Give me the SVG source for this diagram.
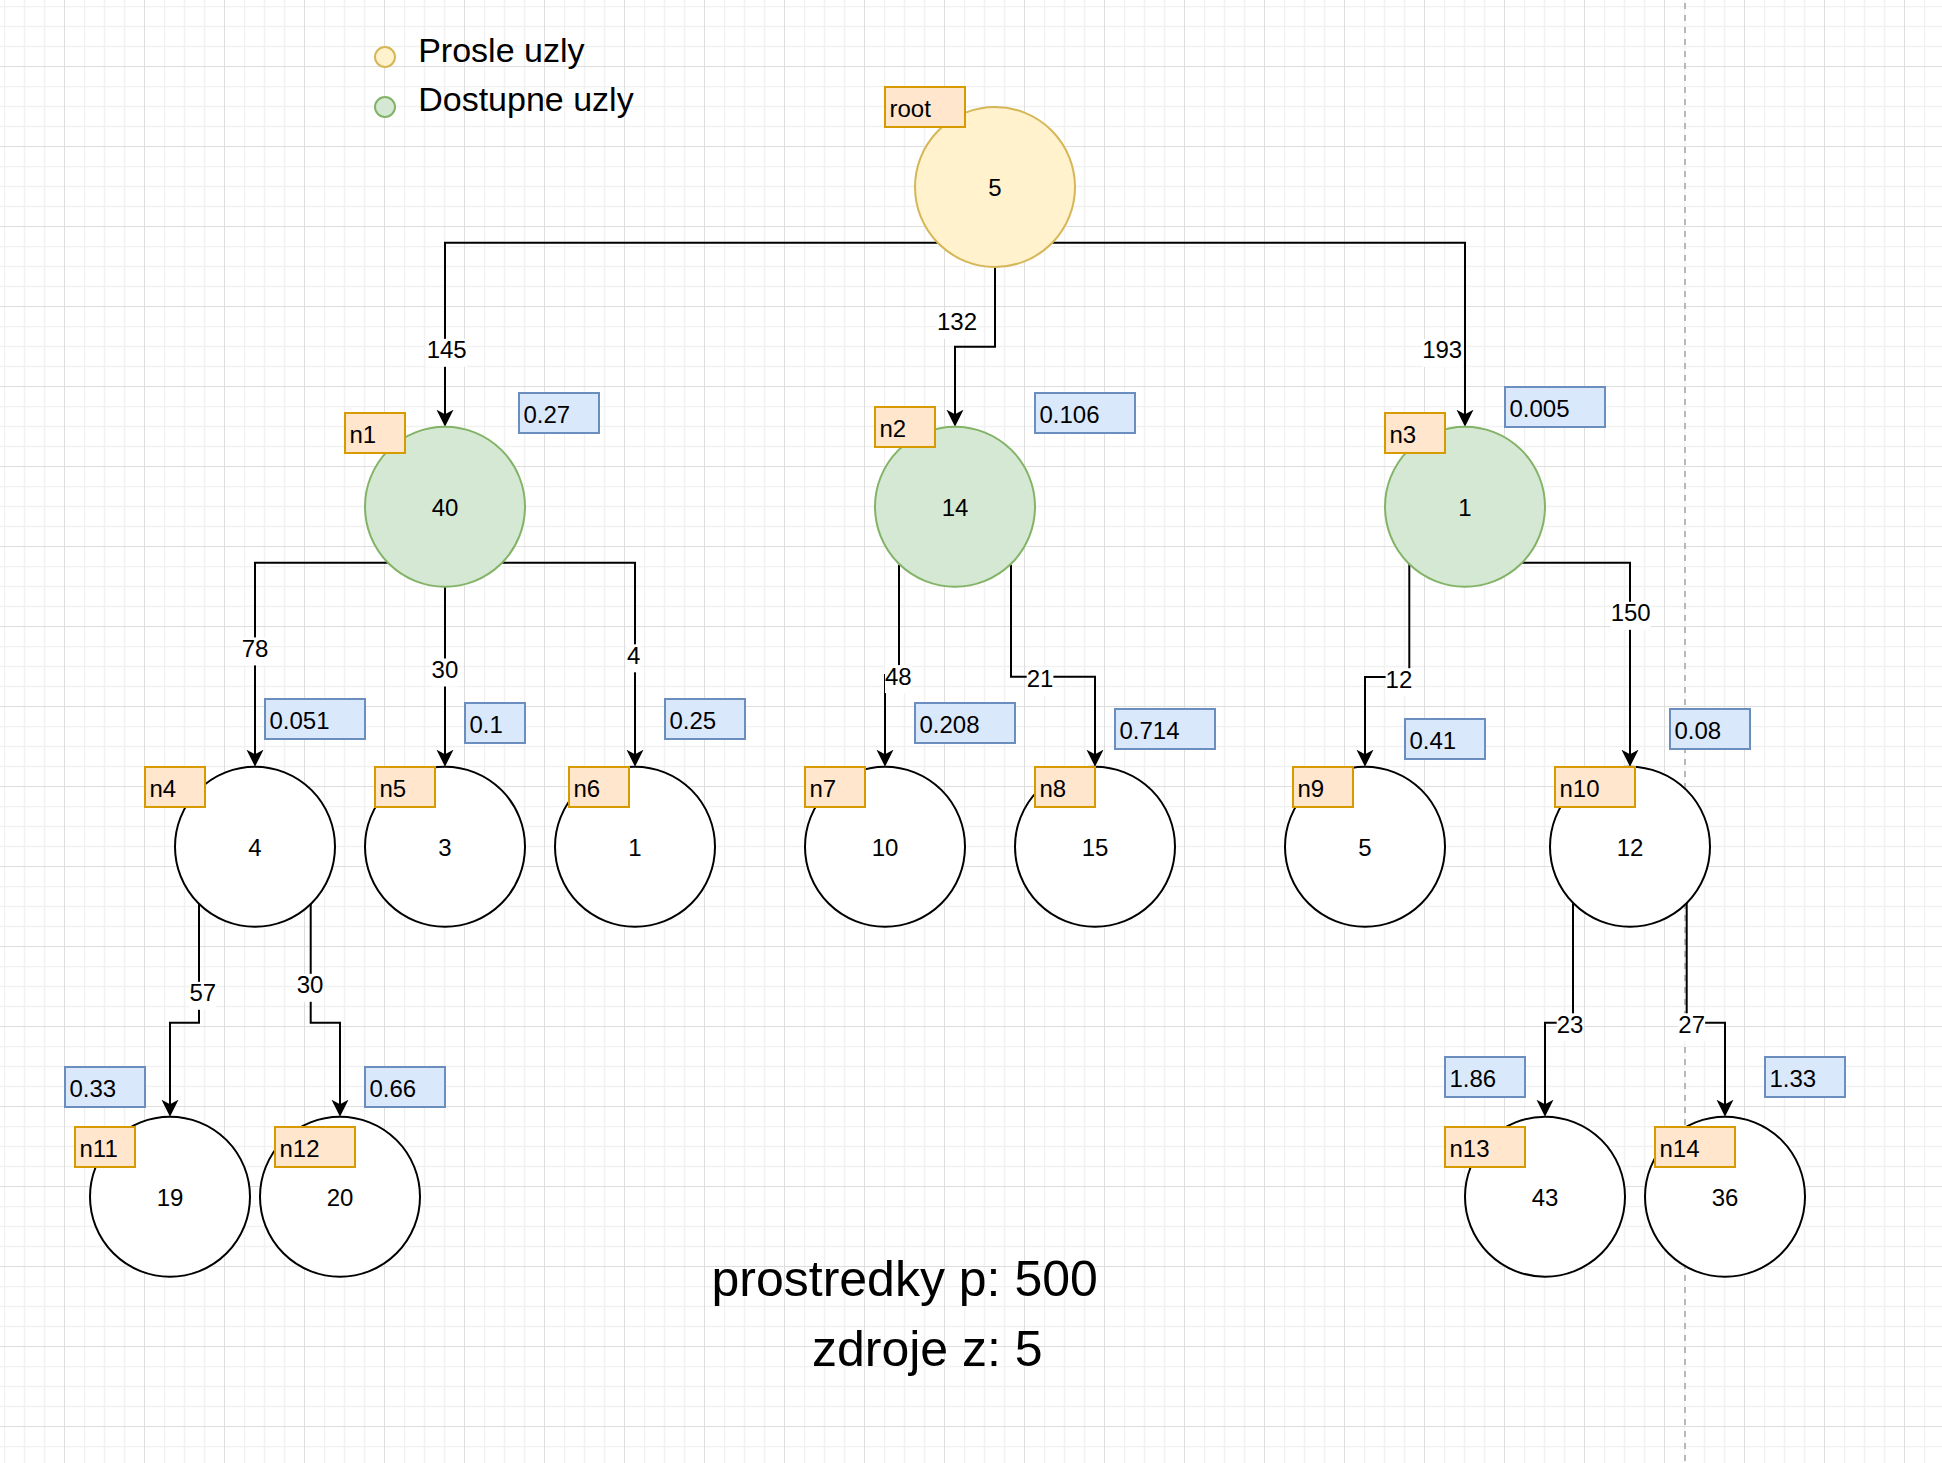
<svg xmlns="http://www.w3.org/2000/svg" width="1942" height="1463" viewBox="0 0 1942 1463">
<defs>
<pattern id="grid" x="4" y="6" width="80" height="80" patternUnits="userSpaceOnUse">
<path d="M0.5 0V80M20.5 0V80M40.5 0V80M0 0.5H80M0 20.5H80M0 40.5H80" stroke="#f1f1f1" stroke-width="1.5" fill="none"/>
<path d="M60.5 0V80M0 60.5H80" stroke="#dedede" stroke-width="1" fill="none"/>
</pattern>
<marker id="arr" markerUnits="userSpaceOnUse" markerWidth="18" markerHeight="18" refX="13" refY="8.5" orient="auto">
<path d="M0,0 L17,8.5 L0,17 L4.5,8.5 Z" fill="#000"/>
</marker>
<style>
text{font-family:"Liberation Sans",Arial,Helvetica,sans-serif;fill:#000}
.t24{font-size:24px}
.mid{text-anchor:middle}
.yel{fill:#fff2cc;stroke:#d6b656;stroke-width:2}
.grn{fill:#d5e8d4;stroke:#82b366;stroke-width:2}
.wht{fill:#fff;stroke:#000;stroke-width:2}
.lab{fill:#ffe6cc;stroke:#d79b00;stroke-width:2}
.val{fill:#dae8fc;stroke:#6c8ebf;stroke-width:2}
.edge{fill:none;stroke:#000;stroke-width:2;marker-end:url(#arr)}
.lbg{fill:#fff}
</style>
</defs>
<rect x="0" y="0" width="1942" height="1463" fill="#fff"/>
<rect x="0" y="0" width="1942" height="1463" fill="url(#grid)"/>
<line x1="1685" y1="0" x2="1685" y2="1463" stroke="#b8b8b8" stroke-width="2" stroke-dasharray="6 6" stroke-dashoffset="-3"/>

<g id="legend">
<circle cx="385" cy="57" r="10" class="yel"/>
<text x="418.2" y="62" style="font-size:34px">Prosle uzly</text>
<circle cx="385" cy="107" r="10" class="grn"/>
<text x="418.2" y="111.3" style="font-size:34px">Dostupne uzly</text>
</g>

<g id="connectors">
<path class="edge" d="M937.6,242.7 H445 V422.7"/>
<path class="edge" d="M995,267 V346.7 H955 V422.7"/>
<path class="edge" d="M1052.4,242.7 H1465 V422.7"/>
<path class="edge" d="M387.9,562.7 H255 V762.7"/>
<path class="edge" d="M445,586.7 V762.7"/>
<path class="edge" d="M502.1,562.7 H635 V762.7"/>
<path class="edge" d="M899,564.8 V675 H885 V762.7"/>
<path class="edge" d="M1011,564.8 V676.7 H1095 V762.7"/>
<path class="edge" d="M1409.3,564.1 V677 H1365 V762.7"/>
<path class="edge" d="M1522.1,562.7 H1630 V762.7"/>
<path class="edge" d="M199,903.8 V1022.7 H170 V1112.7"/>
<path class="edge" d="M310.7,904 V1022.7 H340 V1112.7"/>
<path class="edge" d="M1573,902.8 V1022.7 H1545 V1112.7"/>
<path class="edge" d="M1686.7,903 V1022.7 H1725 V1112.7"/>
<g class="t24">
<rect class="lbg" x="426.7" y="338.8" width="40" height="28"/><text class="mid" x="446.7" y="358.3">145</text>
<rect class="lbg" x="937" y="310.8" width="40" height="28"/><text class="mid" x="957" y="330.3">132</text>
<rect class="lbg" x="1422.2" y="338.8" width="40" height="28"/><text class="mid" x="1442.2" y="358.3">193</text>
<rect class="lbg" x="241.8" y="637.4" width="26.7" height="28"/><text class="mid" x="255.1" y="656.9">78</text>
<rect class="lbg" x="431.6" y="658.5" width="26.7" height="28"/><text class="mid" x="444.9" y="678">30</text>
<rect class="lbg" x="627" y="644.3" width="13.4" height="28"/><text class="mid" x="633.7" y="663.8">4</text>
<rect class="lbg" x="885" y="665.1" width="26.7" height="28"/><text class="mid" x="898.3" y="684.6">48</text>
<rect class="lbg" x="1026.7" y="667.5" width="26.7" height="28"/><text class="mid" x="1040" y="687">21</text>
<rect class="lbg" x="1385.6" y="668.2" width="26.7" height="28"/><text class="mid" x="1398.9" y="687.7">12</text>
<rect class="lbg" x="1610.7" y="601.8" width="40" height="28"/><text class="mid" x="1630.7" y="621.3">150</text>
<rect class="lbg" x="189.5" y="981.8" width="26.7" height="28"/><text class="mid" x="202.8" y="1001.3">57</text>
<rect class="lbg" x="296.7" y="973.8" width="26.7" height="28"/><text class="mid" x="310" y="993.3">30</text>
<rect class="lbg" x="1556.7" y="1013.3" width="26.7" height="28"/><text class="mid" x="1570" y="1032.8">23</text>
<rect class="lbg" x="1678.4" y="1013.3" width="26.7" height="28"/><text class="mid" x="1691.7" y="1032.8">27</text>
</g>
</g>

<g id="node-root" class="t24">
<circle cx="995" cy="187" r="80" class="yel"/>
<text class="mid" x="995" y="196">5</text>
<rect x="885" y="87" width="80" height="40" class="lab"/>
<text x="889.5" y="116.5">root</text>
</g>

<g id="node-n1" class="t24">
<circle cx="445" cy="506.7" r="80" class="grn"/>
<text class="mid" x="445" y="515.7">40</text>
<rect x="345" y="413" width="60" height="40" class="lab"/>
<text x="349.5" y="442.5">n1</text>
<rect x="519" y="393" width="80" height="40" class="val"/>
<text x="523.5" y="422.5">0.27</text>
</g>

<g id="node-n2" class="t24">
<circle cx="955" cy="506.7" r="80" class="grn"/>
<text class="mid" x="955" y="515.7">14</text>
<rect x="875" y="407" width="60" height="40" class="lab"/>
<text x="879.5" y="436.5">n2</text>
<rect x="1035" y="393" width="100" height="40" class="val"/>
<text x="1039.5" y="422.5">0.106</text>
</g>

<g id="node-n3" class="t24">
<circle cx="1465" cy="506.7" r="80" class="grn"/>
<text class="mid" x="1465" y="515.7">1</text>
<rect x="1385" y="413" width="60" height="40" class="lab"/>
<text x="1389.5" y="442.5">n3</text>
<rect x="1505" y="387" width="100" height="40" class="val"/>
<text x="1509.5" y="416.5">0.005</text>
</g>

<g id="node-n4" class="t24">
<circle cx="255" cy="846.7" r="80" class="wht"/>
<text class="mid" x="255" y="855.7">4</text>
<rect x="145" y="767" width="60" height="40" class="lab"/>
<text x="149.5" y="796.5">n4</text>
<rect x="265" y="699" width="100" height="40" class="val"/>
<text x="269.5" y="728.5">0.051</text>
</g>

<g id="node-n5" class="t24">
<circle cx="445" cy="846.7" r="80" class="wht"/>
<text class="mid" x="445" y="855.7">3</text>
<rect x="375" y="767" width="60" height="40" class="lab"/>
<text x="379.5" y="796.5">n5</text>
<rect x="465" y="703" width="60" height="40" class="val"/>
<text x="469.5" y="732.5">0.1</text>
</g>

<g id="node-n6" class="t24">
<circle cx="635" cy="846.7" r="80" class="wht"/>
<text class="mid" x="635" y="855.7">1</text>
<rect x="569" y="767" width="60" height="40" class="lab"/>
<text x="573.5" y="796.5">n6</text>
<rect x="665" y="699" width="80" height="40" class="val"/>
<text x="669.5" y="728.5">0.25</text>
</g>

<g id="node-n7" class="t24">
<circle cx="885" cy="846.7" r="80" class="wht"/>
<text class="mid" x="885" y="855.7">10</text>
<rect x="805" y="767" width="60" height="40" class="lab"/>
<text x="809.5" y="796.5">n7</text>
<rect x="915" y="703" width="100" height="40" class="val"/>
<text x="919.5" y="732.5">0.208</text>
</g>

<g id="node-n8" class="t24">
<circle cx="1095" cy="846.7" r="80" class="wht"/>
<text class="mid" x="1095" y="855.7">15</text>
<rect x="1035" y="767" width="60" height="40" class="lab"/>
<text x="1039.5" y="796.5">n8</text>
<rect x="1115" y="709" width="100" height="40" class="val"/>
<text x="1119.5" y="738.5">0.714</text>
</g>

<g id="node-n9" class="t24">
<circle cx="1365" cy="846.7" r="80" class="wht"/>
<text class="mid" x="1365" y="855.7">5</text>
<rect x="1293" y="767" width="60" height="40" class="lab"/>
<text x="1297.5" y="796.5">n9</text>
<rect x="1405" y="719" width="80" height="40" class="val"/>
<text x="1409.5" y="748.5">0.41</text>
</g>

<g id="node-n10" class="t24">
<circle cx="1630" cy="846.7" r="80" class="wht"/>
<text class="mid" x="1630" y="855.7">12</text>
<rect x="1555" y="767" width="80" height="40" class="lab"/>
<text x="1559.5" y="796.5">n10</text>
<rect x="1670" y="709" width="80" height="40" class="val"/>
<text x="1674.5" y="738.5">0.08</text>
</g>

<g id="node-n11" class="t24">
<circle cx="170" cy="1196.7" r="80" class="wht"/>
<text class="mid" x="170" y="1205.7">19</text>
<rect x="75" y="1127" width="60" height="40" class="lab"/>
<text x="79.5" y="1156.5">n11</text>
<rect x="65" y="1067" width="80" height="40" class="val"/>
<text x="69.5" y="1096.5">0.33</text>
</g>

<g id="node-n12" class="t24">
<circle cx="340" cy="1196.7" r="80" class="wht"/>
<text class="mid" x="340" y="1205.7">20</text>
<rect x="275" y="1127" width="80" height="40" class="lab"/>
<text x="279.5" y="1156.5">n12</text>
<rect x="365" y="1067" width="80" height="40" class="val"/>
<text x="369.5" y="1096.5">0.66</text>
</g>

<g id="node-n13" class="t24">
<circle cx="1545" cy="1196.7" r="80" class="wht"/>
<text class="mid" x="1545" y="1205.7">43</text>
<rect x="1445" y="1127" width="80" height="40" class="lab"/>
<text x="1449.5" y="1156.5">n13</text>
<rect x="1445" y="1057" width="80" height="40" class="val"/>
<text x="1449.5" y="1086.5">1.86</text>
</g>

<g id="node-n14" class="t24">
<circle cx="1725" cy="1196.7" r="80" class="wht"/>
<text class="mid" x="1725" y="1205.7">36</text>
<rect x="1655" y="1127" width="80" height="40" class="lab"/>
<text x="1659.5" y="1156.5">n14</text>
<rect x="1765" y="1057" width="80" height="40" class="val"/>
<text x="1769.5" y="1086.5">1.33</text>
</g>

<g id="summary">
<text x="711.5" y="1296" style="font-size:50px">prostredky p: 500</text>
<text x="812" y="1365.5" style="font-size:50px">zdroje z: 5</text>
</g>
</svg>
